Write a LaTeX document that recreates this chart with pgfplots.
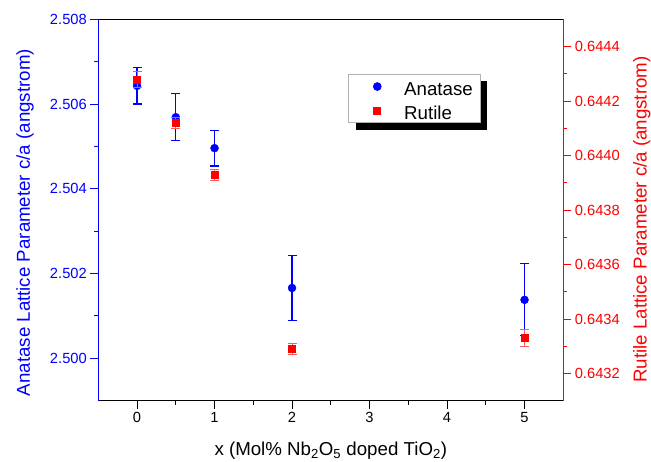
\documentclass[border=0pt]{standalone}
\usepackage{pgfplots}
\pgfplotsset{compat=1.18}
\usepackage{fontspec}
\setmainfont{Liberation Sans}
\usetikzlibrary{shadows}
\definecolor{ablue}{RGB}{0,0,255}
\definecolor{rred}{RGB}{255,0,0}
\newcommand{\tickfont}{\fontsize{14.7bp}{17bp}\selectfont}
\newcommand{\labfont}{\fontsize{18.7bp}{22bp}\selectfont}
\begin{document}
\begin{tikzpicture}
\useasboundingbox (-98.3bp,-61.3bp) rectangle (552.7bp,400.7bp);
\pgfplotsset{
  common/.style={
    scale only axis, width=465bp, height=381.4bp,
    xmin=-0.5, xmax=5.5,
    tick align=outside, major tick length=8bp, minor tick length=4bp,
    scaled ticks=false,
    /pgf/number format/assume math mode=true,
    tick label style={font=\tickfont},
    axis line style={-, line width=0.9bp},
  }
}
\begin{axis}[common,
  axis y line*=left, axis x line*=bottom,
  ymin=2.499, ymax=2.508,
  ytick={2.500,2.502,2.504,2.506,2.508}, minor y tick num=1,
  xtick={0,1,2,3,4,5}, minor x tick num=1,
  y axis line style={ablue}, x axis line style={black},
  ytick style={ablue, line width=0.9bp}, xtick style={black, line width=0.9bp},
  yticklabel style={ablue, /pgf/number format/.cd, fixed, fixed zerofill, precision=3},
  xticklabel style={black},
  xlabel={x (Mol\% Nb\textsubscript{2}O\textsubscript{5} doped TiO\textsubscript{2})},
  ylabel={Anatase Lattice Parameter c/a (angstrom)},
  every axis x label/.style={at={(axis description cs:0.5,-0.1424)}, anchor=base, font=\labfont},
  every axis y label/.style={at={(axis description cs:-0.1469,0.467)}, anchor=base, rotate=90, font=\labfont, text=ablue},
]
\addplot[only marks, mark=*, mark size=4bp, ablue, mark options={fill=ablue, draw=ablue},
  error bars/.cd, y dir=both, y explicit,
  error bar style={ablue, line width=1.2bp},
  error mark options={rotate=90, mark size=4.5bp, ablue, line width=1.2bp}]
  coordinates {
  (0,2.50643) +- (0,0.00043)
  (0.5,2.50569) +- (0,0.00055)
  (1,2.50496) +- (0,0.00042)
  (2,2.50166) +- (0,0.00077)
  (5,2.50138) +- (0,0.00085)
  };
\end{axis}
\begin{axis}[common,
  axis y line*=right, axis x line*=top,
  xtick=\empty,
  ymin=0.6431, ymax=0.6445,
  ytick={0.6432,0.6434,0.6436,0.6438,0.6440,0.6442,0.6444}, minor y tick num=1,
  y axis line style={rred}, x axis line style={black},
  ytick style={rred, line width=0.9bp},
  yticklabel style={rred, /pgf/number format/.cd, fixed, fixed zerofill, precision=4},
  ylabel={Rutile Lattice Parameter c/a (angstrom)},
  every axis y label/.style={at={(axis description cs:1.1793,0.475)}, anchor=base, rotate=90, font=\labfont, text=rred},
  legend style={at={(axis description cs:0.5376,0.8566)}, anchor=north west,
    draw=gray!60, line width=0.6bp, fill=white, font=\labfont,
    inner xsep=7.3bp, inner ysep=2bp, row sep=3.5bp,
    nodes={inner sep=0bp, text height=19bp},
    drop shadow={shadow xshift=7bp, shadow yshift=-7bp, fill=black, opacity=1},
    /tikz/every odd column/.append style={column sep=22.6bp}},
  legend cell align=left,
  legend image code/.code={\path (-21.1bp,0bp) (4bp,0bp); \draw[#1, draw=none] plot[only marks] coordinates {(0bp,0bp)};},
]
\addlegendimage{only marks, mark=*, mark size=4bp, ablue, mark options={fill=ablue, draw=ablue}}
\addlegendentry{Anatase}
\addplot[only marks, mark=square*, mark size=3.5bp, rred, mark options={fill=rred, draw=rred},
  error bars/.cd, y dir=both, y explicit,
  error bar style={rred!65, line width=0.8bp},
  error mark options={rotate=90, mark size=4.5bp, rred!65, line width=0.8bp}]
  coordinates {
  (0,0.64428) +- (0,0.00003)
  (0.5,0.64412) +- (0,0.00002)
  (1,0.64393) +- (0,0.00002)
  (2,0.64329) +- (0,0.00002)
  (5,0.64333) +- (0,0.00003)
  };
\addlegendentry{Rutile}
\end{axis}
\end{tikzpicture}
\end{document}
